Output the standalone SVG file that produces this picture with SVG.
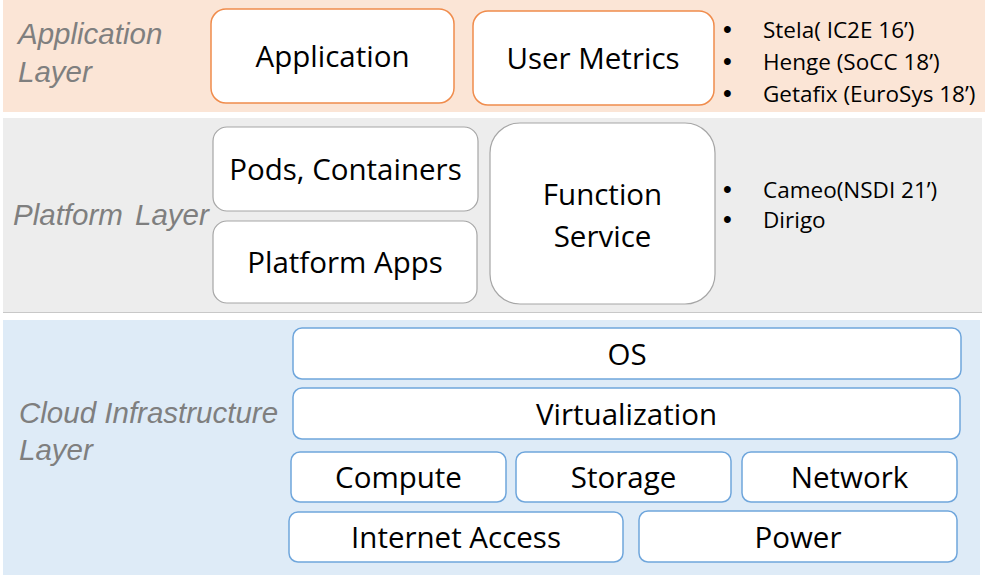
<svg xmlns="http://www.w3.org/2000/svg" width="985" height="575" viewBox="0 0 985 575">
<style>
.bg{fill:#ffffff}
.band-app{fill:#FBE5D6}
.band-plat{fill:#EDEDED}
.band-infra{fill:#DEEBF7}
.sep{stroke:#C8C8C8;stroke-width:1.2;fill:none}
.box-app{fill:#ffffff;stroke:#F08C4C;stroke-width:1.5}
.box-plat{fill:#ffffff;stroke:#A6A6A6;stroke-width:1.2}
.box-infra{fill:#ffffff;stroke:#6FA6DC;stroke-width:1.5}
.lbl{font-family:"Open Sans","Liberation Sans",sans-serif;font-size:29.5px;fill:#000000;text-anchor:middle}
.layer{font-family:"Liberation Sans",Arial,sans-serif;font-style:italic;font-size:29.5px;fill:#7F7F7F}
.bul{font-family:"Open Sans","Liberation Sans",sans-serif;font-size:22.5px;fill:#000000}
.dot{font-family:"Liberation Sans",Arial,sans-serif;font-size:25px;fill:#000000}
</style>
<rect class="bg" x="0" y="0" width="985" height="575"/>

<g id="application-layer">
  <rect class="band-app" x="3" y="0" width="982" height="112"/>
  <text class="layer" x="18" y="44">Application</text>
  <text class="layer" x="18" y="82">Layer</text>
</g>
<g id="platform-layer">
  <rect class="band-plat" x="3" y="118" width="979" height="194"/>
  <line class="sep" x1="3" y1="312.5" x2="982" y2="312.5"/>
  <text class="layer" x="13" y="225" word-spacing="4">Platform Layer</text>
</g>
<g id="infrastructure-layer">
  <rect class="band-infra" x="3" y="320" width="977" height="255"/>
  <text class="layer" x="19" y="423">Cloud Infrastructure</text>
  <text class="layer" x="19" y="460">Layer</text>
</g>

<g id="node-application">
  <rect class="box-app" x="211" y="9" width="243" height="94" rx="15"/>
  <text class="lbl" x="332.5" y="66.5">Application</text>
</g>
<g id="node-user-metrics">
  <rect class="box-app" x="473" y="11" width="241" height="94" rx="15"/>
  <text class="lbl" x="593" y="68.5">User Metrics</text>
</g>
<g id="app-references">
  <text class="dot" x="723" y="38">•</text>
  <text class="bul" x="763" y="38">Stela( IC2E 16’)</text>
  <text class="dot" x="723" y="70">•</text>
  <text class="bul" x="763" y="70">Henge (SoCC 18’)</text>
  <text class="dot" x="723" y="102">•</text>
  <text class="bul" x="763" y="102">Getafix (EuroSys 18’)</text>
</g>

<g id="node-pods-containers">
  <rect class="box-plat" x="213" y="127" width="265" height="84" rx="14"/>
  <text class="lbl" x="345.5" y="179.5">Pods, Containers</text>
</g>
<g id="node-platform-apps">
  <rect class="box-plat" x="213" y="221" width="264" height="82" rx="14"/>
  <text class="lbl" x="345" y="272.5">Platform Apps</text>
</g>
<g id="node-function-service">
  <rect class="box-plat" x="490" y="123" width="225" height="181" rx="30"/>
  <text class="lbl" x="602.5" y="204.5">Function</text>
  <text class="lbl" x="602.5" y="246.5">Service</text>
</g>
<g id="platform-references">
  <text class="dot" x="723" y="198">•</text>
  <text class="bul" x="763" y="198">Cameo(NSDI 21’)</text>
  <text class="dot" x="723" y="228">•</text>
  <text class="bul" x="763" y="228">Dirigo</text>
</g>

<g id="node-os">
  <rect class="box-infra" x="293" y="328" width="668" height="51" rx="9"/>
  <text class="lbl" x="627" y="364.5">OS</text>
</g>
<g id="node-virtualization">
  <rect class="box-infra" x="293" y="388" width="667" height="51" rx="9"/>
  <text class="lbl" x="626.5" y="424.5">Virtualization</text>
</g>
<g id="node-compute">
  <rect class="box-infra" x="291" y="452" width="215" height="50" rx="9"/>
  <text class="lbl" x="398.5" y="488">Compute</text>
</g>
<g id="node-storage">
  <rect class="box-infra" x="516" y="452" width="215" height="50" rx="9"/>
  <text class="lbl" x="623.5" y="488">Storage</text>
</g>
<g id="node-network">
  <rect class="box-infra" x="742" y="452" width="215" height="50" rx="9"/>
  <text class="lbl" x="849.5" y="488">Network</text>
</g>
<g id="node-internet-access">
  <rect class="box-infra" x="289" y="512" width="334" height="50" rx="9"/>
  <text class="lbl" x="456" y="548">Internet Access</text>
</g>
<g id="node-power">
  <rect class="box-infra" x="639" y="511" width="318" height="51" rx="9"/>
  <text class="lbl" x="798" y="547.5">Power</text>
</g>

<g id="connectors"></g>
</svg>
